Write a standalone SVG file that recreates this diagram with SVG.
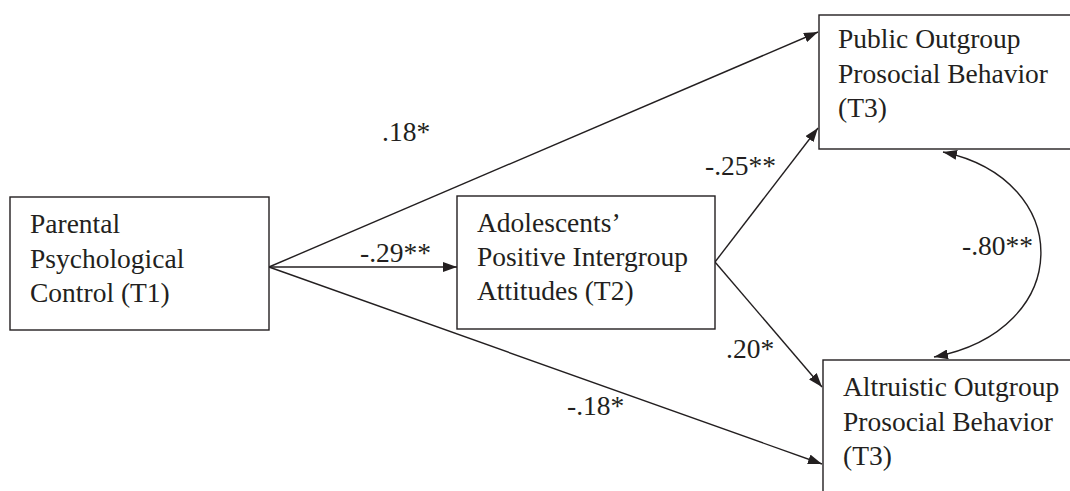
<svg xmlns="http://www.w3.org/2000/svg" width="1070" height="491" viewBox="0 0 1070 491">
<defs>
<style>
.box{fill:#fff;stroke:#231f20;stroke-width:1.4}
.t{font-family:"Liberation Serif","Times New Roman",serif;font-size:27.5px;fill:#231f20}
.c{fill:none;stroke:#231f20;stroke-width:1.4}
</style>
<marker id="ah" viewBox="0 0 14 10" refX="14" refY="5" markerWidth="14" markerHeight="10" markerUnits="userSpaceOnUse" orient="auto-start-reverse">
<path d="M0,0 L14,5 L0,10 Z" fill="#231f20"/>
</marker>
</defs>
<rect width="1070" height="491" fill="#fff"/>
<g id="connectors">
<line class="c" x1="269" y1="267" x2="818" y2="32" marker-end="url(#ah)"/>
<line class="c" x1="269" y1="267" x2="457" y2="267" marker-end="url(#ah)"/>
<line class="c" x1="269" y1="267" x2="822" y2="464" marker-end="url(#ah)"/>
<line class="c" x1="715" y1="262" x2="818" y2="128" marker-end="url(#ah)"/>
<line class="c" x1="715" y1="262" x2="822" y2="387" marker-end="url(#ah)"/>
<path class="c" d="M943,152 C1075,180 1075,330 934,357" marker-start="url(#ah)" marker-end="url(#ah)"/>
<text class="t" x="382" y="141">.18*</text>
<text class="t" x="360" y="262">-.29**</text>
<text class="t" x="705" y="175">-.25**</text>
<text class="t" x="726" y="358">.20*</text>
<text class="t" x="567" y="415">-.18*</text>
<text class="t" x="962" y="255">-.80**</text>
</g>
<g id="n1">
<rect class="box" x="10" y="197" width="259" height="133"/>
<text class="t" x="30" y="233">Parental</text>
<text class="t" x="30" y="268">Psychological</text>
<text class="t" x="30" y="302">Control (T1)</text>
</g>
<g id="n2">
<rect class="box" x="457" y="196" width="258" height="133"/>
<text class="t" x="477" y="232">Adolescents’</text>
<text class="t" x="477" y="266">Positive Intergroup</text>
<text class="t" x="477" y="300">Attitudes (T2)</text>
</g>
<g id="n3">
<rect class="box" x="819" y="15" width="270" height="134"/>
<text class="t" x="838" y="48">Public Outgroup</text>
<text class="t" x="838" y="83">Prosocial Behavior</text>
<text class="t" x="838" y="117">(T3)</text>
</g>
<g id="n4">
<rect class="box" x="823" y="360" width="270" height="150"/>
<text class="t" x="843" y="396">Altruistic Outgroup</text>
<text class="t" x="843" y="431">Prosocial Behavior</text>
<text class="t" x="843" y="465">(T3)</text>
</g>
</svg>
